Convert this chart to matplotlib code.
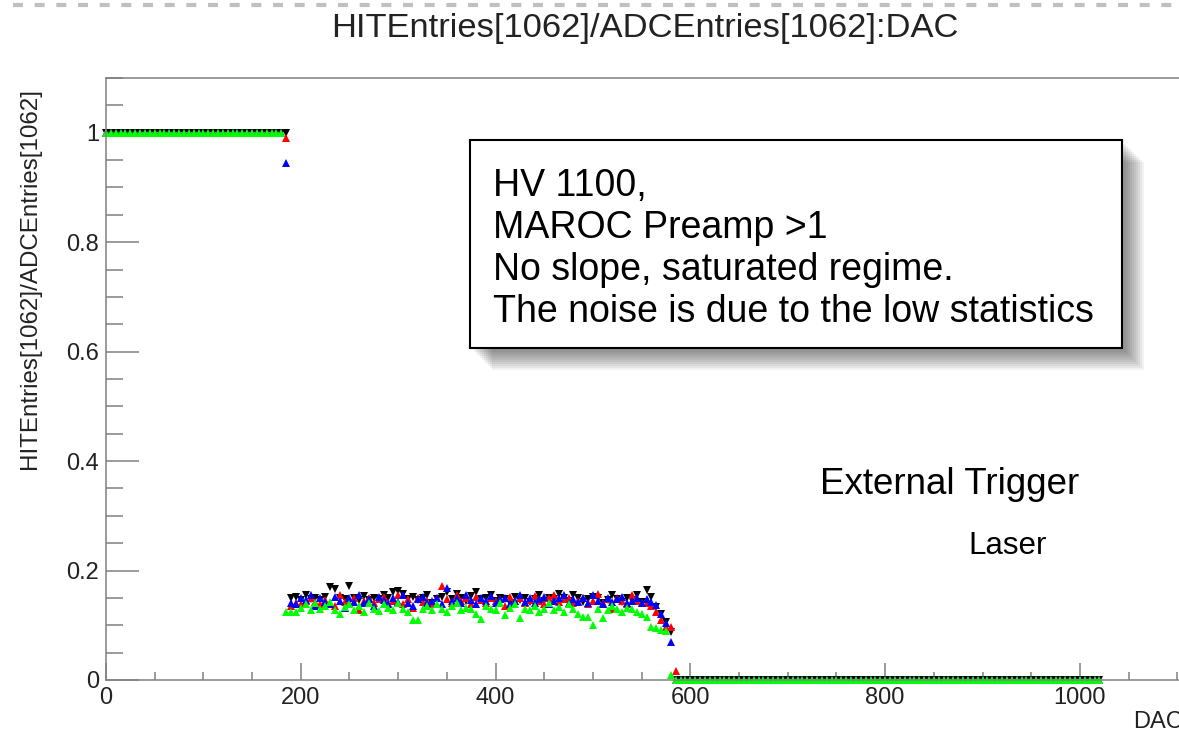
import matplotlib
matplotlib.use('Agg')
import matplotlib.pyplot as plt
from matplotlib.lines import Line2D
from matplotlib.patches import Rectangle
from matplotlib.ticker import MultipleLocator

plt.rcParams['font.family'] = ['Liberation Sans', 'DejaVu Sans']

# DAC scan, step 5
dac = list(range(0, 1025, 5))

# plateau 0..180 and tail 590..1020
n_high = 37
n_low = 87

# value at DAC 185
black_185, red_185, blue_185, green_185 = 1.0, 0.99, 0.945, 0.125

# DAC 190..575
black_mid = [0.150, 0.152, 0.147, 0.155, 0.148, 0.150, 0.146, 0.152, 0.170, 0.166,
             0.150, 0.148, 0.172, 0.150, 0.147, 0.153, 0.146, 0.150, 0.148, 0.155,
             0.150, 0.160, 0.162, 0.158, 0.148, 0.152, 0.146, 0.150, 0.155, 0.140,
             0.148, 0.152, 0.160, 0.148, 0.158, 0.150, 0.145, 0.153, 0.160, 0.148,
             0.150, 0.155, 0.145, 0.150, 0.148, 0.140, 0.152, 0.147, 0.150, 0.143,
             0.148, 0.155, 0.145, 0.150, 0.148, 0.158, 0.150, 0.145, 0.155, 0.150,
             0.143, 0.148, 0.152, 0.150, 0.140, 0.146, 0.155, 0.148, 0.142, 0.150,
             0.146, 0.155, 0.143, 0.165, 0.152, 0.134, 0.120, 0.106]
red_mid = [0.135, 0.140, 0.138, 0.145, 0.150, 0.142, 0.138, 0.146, 0.140, 0.135,
           0.155, 0.143, 0.140, 0.150, 0.128, 0.145, 0.150, 0.140, 0.148, 0.152,
           0.140, 0.145, 0.155, 0.138, 0.148, 0.132, 0.150, 0.143, 0.145, 0.138,
           0.150, 0.172, 0.148, 0.140, 0.155, 0.145, 0.150, 0.138, 0.152, 0.146,
           0.140, 0.150, 0.145, 0.148, 0.136, 0.152, 0.145, 0.150, 0.140, 0.147,
           0.153, 0.145, 0.138, 0.150, 0.156, 0.142, 0.148, 0.150, 0.140, 0.145,
           0.150, 0.138, 0.145, 0.158, 0.140, 0.148, 0.130, 0.150, 0.145, 0.138,
           0.155, 0.145, 0.140, 0.141, 0.135, 0.124, 0.110, 0.097]
blue_mid = [0.140, 0.138, 0.150, 0.146, 0.155, 0.135, 0.150, 0.142, 0.138, 0.152,
            0.145, 0.132, 0.150, 0.143, 0.155, 0.140, 0.148, 0.135, 0.152, 0.146,
            0.138, 0.150, 0.143, 0.155, 0.140, 0.135, 0.148, 0.152, 0.140, 0.145,
            0.150, 0.138, 0.168, 0.145, 0.150, 0.140, 0.155, 0.146, 0.138, 0.150,
            0.145, 0.153, 0.140, 0.148, 0.150, 0.138, 0.145, 0.155, 0.142, 0.150,
            0.140, 0.148, 0.152, 0.138, 0.145, 0.150, 0.155, 0.140, 0.148, 0.143,
            0.150, 0.140, 0.155, 0.145, 0.138, 0.150, 0.143, 0.148, 0.152, 0.140,
            0.145, 0.150, 0.140, 0.148, 0.142, 0.137, 0.120, 0.104]
green_mid = [0.125, 0.125, 0.132, 0.138, 0.128, 0.140, 0.130, 0.135, 0.142, 0.128,
             0.120, 0.133, 0.138, 0.128, 0.135, 0.125, 0.140, 0.130, 0.126, 0.138,
             0.132, 0.128, 0.140, 0.130, 0.125, 0.110, 0.110, 0.130, 0.135, 0.128,
             0.138, 0.130, 0.125, 0.135, 0.140, 0.128, 0.132, 0.130, 0.120, 0.111,
             0.135, 0.130, 0.128, 0.140, 0.119, 0.132, 0.138, 0.113, 0.130, 0.128,
             0.135, 0.125, 0.130, 0.140, 0.128, 0.133, 0.125, 0.138, 0.130, 0.120,
             0.115, 0.115, 0.100, 0.130, 0.113, 0.128, 0.135, 0.130, 0.125, 0.132,
             0.130, 0.125, 0.120, 0.115, 0.097, 0.095, 0.091, 0.090]

# DAC 580, 585
black_end = [0.088, 0.0]
red_end = [0.097, 0.016]
blue_end = [0.069, 0.0]
green_end = [0.009, 0.0]


def build(v185, mid, end):
    return [1.0] * n_high + [v185] + mid + end + [0.0] * n_low


series = [
    (build(black_185, black_mid, black_end), 'black', 'v'),
    (build(red_185, red_mid, red_end), '#ff0000', '^'),
    (build(blue_185, blue_mid, blue_end), '#0000ff', '^'),
    (build(green_185, green_mid, green_end), '#00ff00', '^'),
]

W, H = 1179, 734
fig = plt.figure(figsize=(W / 100, H / 100), dpi=100)
ax = fig.add_axes([106 / W, 1 - 680 / H, 1084 / W, 602 / H])

for vals, col, mk in series:
    ax.plot(dac, vals, linestyle='none', marker=mk, color=col, markersize=6,
            markeredgewidth=0, clip_on=False)

ax.set_xlim(0, 1113)
ax.set_ylim(0, 1.1)
ax.xaxis.set_major_locator(MultipleLocator(200))
ax.xaxis.set_minor_locator(MultipleLocator(50))
ax.yaxis.set_major_locator(MultipleLocator(0.2))
ax.yaxis.set_minor_locator(MultipleLocator(0.05))
ax.set_yticks([0, 0.2, 0.4, 0.6, 0.8, 1.0])
ax.set_yticklabels(['0', '0.2', '0.4', '0.6', '0.8', '1'])
ax.set_xticks([0, 200, 400, 600, 800, 1000])
ax.set_xticklabels(['0', '200', '400', '600', '800', '1000'])

grey = '#808080'
for s in ax.spines.values():
    s.set_color(grey)
    s.set_linewidth(1.1)
ax.tick_params(axis='both', which='both', direction='in', colors=grey,
               labelcolor='#222222', labelsize=17, width=1.1)
ax.tick_params(axis='x', which='major', length=12, pad=5)
ax.tick_params(axis='x', which='minor', length=6)
ax.tick_params(axis='y', which='major', length=24, pad=5)
ax.tick_params(axis='y', which='minor', length=12)

# titles / labels
fig.text(645 / W, 1 - 28 / H, 'HITEntries[1062]/ADCEntries[1062]:DAC',
         ha='center', va='center', fontsize=24.8, color='#222222')
fig.text(30 / W, 1 - 88 / H, 'HITEntries[1062]/ADCEntries[1062]',
         rotation=90, ha='center', va='top', fontsize=17.4, color='#222222')
fig.text(1133 / W, 1 - 722 / H, 'DAC', ha='left', va='center', fontsize=17,
         color='#222222')

# dashed border on top
fig.add_artist(Line2D([13 / W, 1.0], [1 - 5 / H, 1 - 5 / H], transform=fig.transFigure,
                      color='#c0c0c0', linewidth=3, linestyle=(0, (2.4, 2.8))))

# text box with soft shadow
bx0, by0, bx1, by1 = 470, 140, 1122, 348
for i in range(10):
    off = 4 + i * 2
    fig.add_artist(Rectangle(((bx0 + off) / W, 1 - (by1 + off) / H),
                             (bx1 - bx0) / W, (by1 - by0) / H,
                             transform=fig.transFigure, facecolor='black',
                             edgecolor='none', alpha=0.05))
fig.add_artist(Rectangle((bx0 / W, 1 - by1 / H), (bx1 - bx0) / W, (by1 - by0) / H,
                         transform=fig.transFigure, facecolor='white',
                         edgecolor='black', linewidth=1.5))
fig.text(493 / W, 1 - 249 / H,
         'HV 1100,\nMAROC Preamp >1\nNo slope, saturated regime.\n'
         'The noise is due to the low statistics',
         ha='left', va='center', fontsize=27, linespacing=1.22, color='black')

fig.text(820 / W, 1 - 485 / H, 'External Trigger', ha='left', va='center',
         fontsize=26.5, color='black')
fig.text(968 / W, 1 - 546 / H, 'Laser', ha='left', va='center',
         fontsize=22.5, color='black')

fig.savefig('out.png', dpi=100)
